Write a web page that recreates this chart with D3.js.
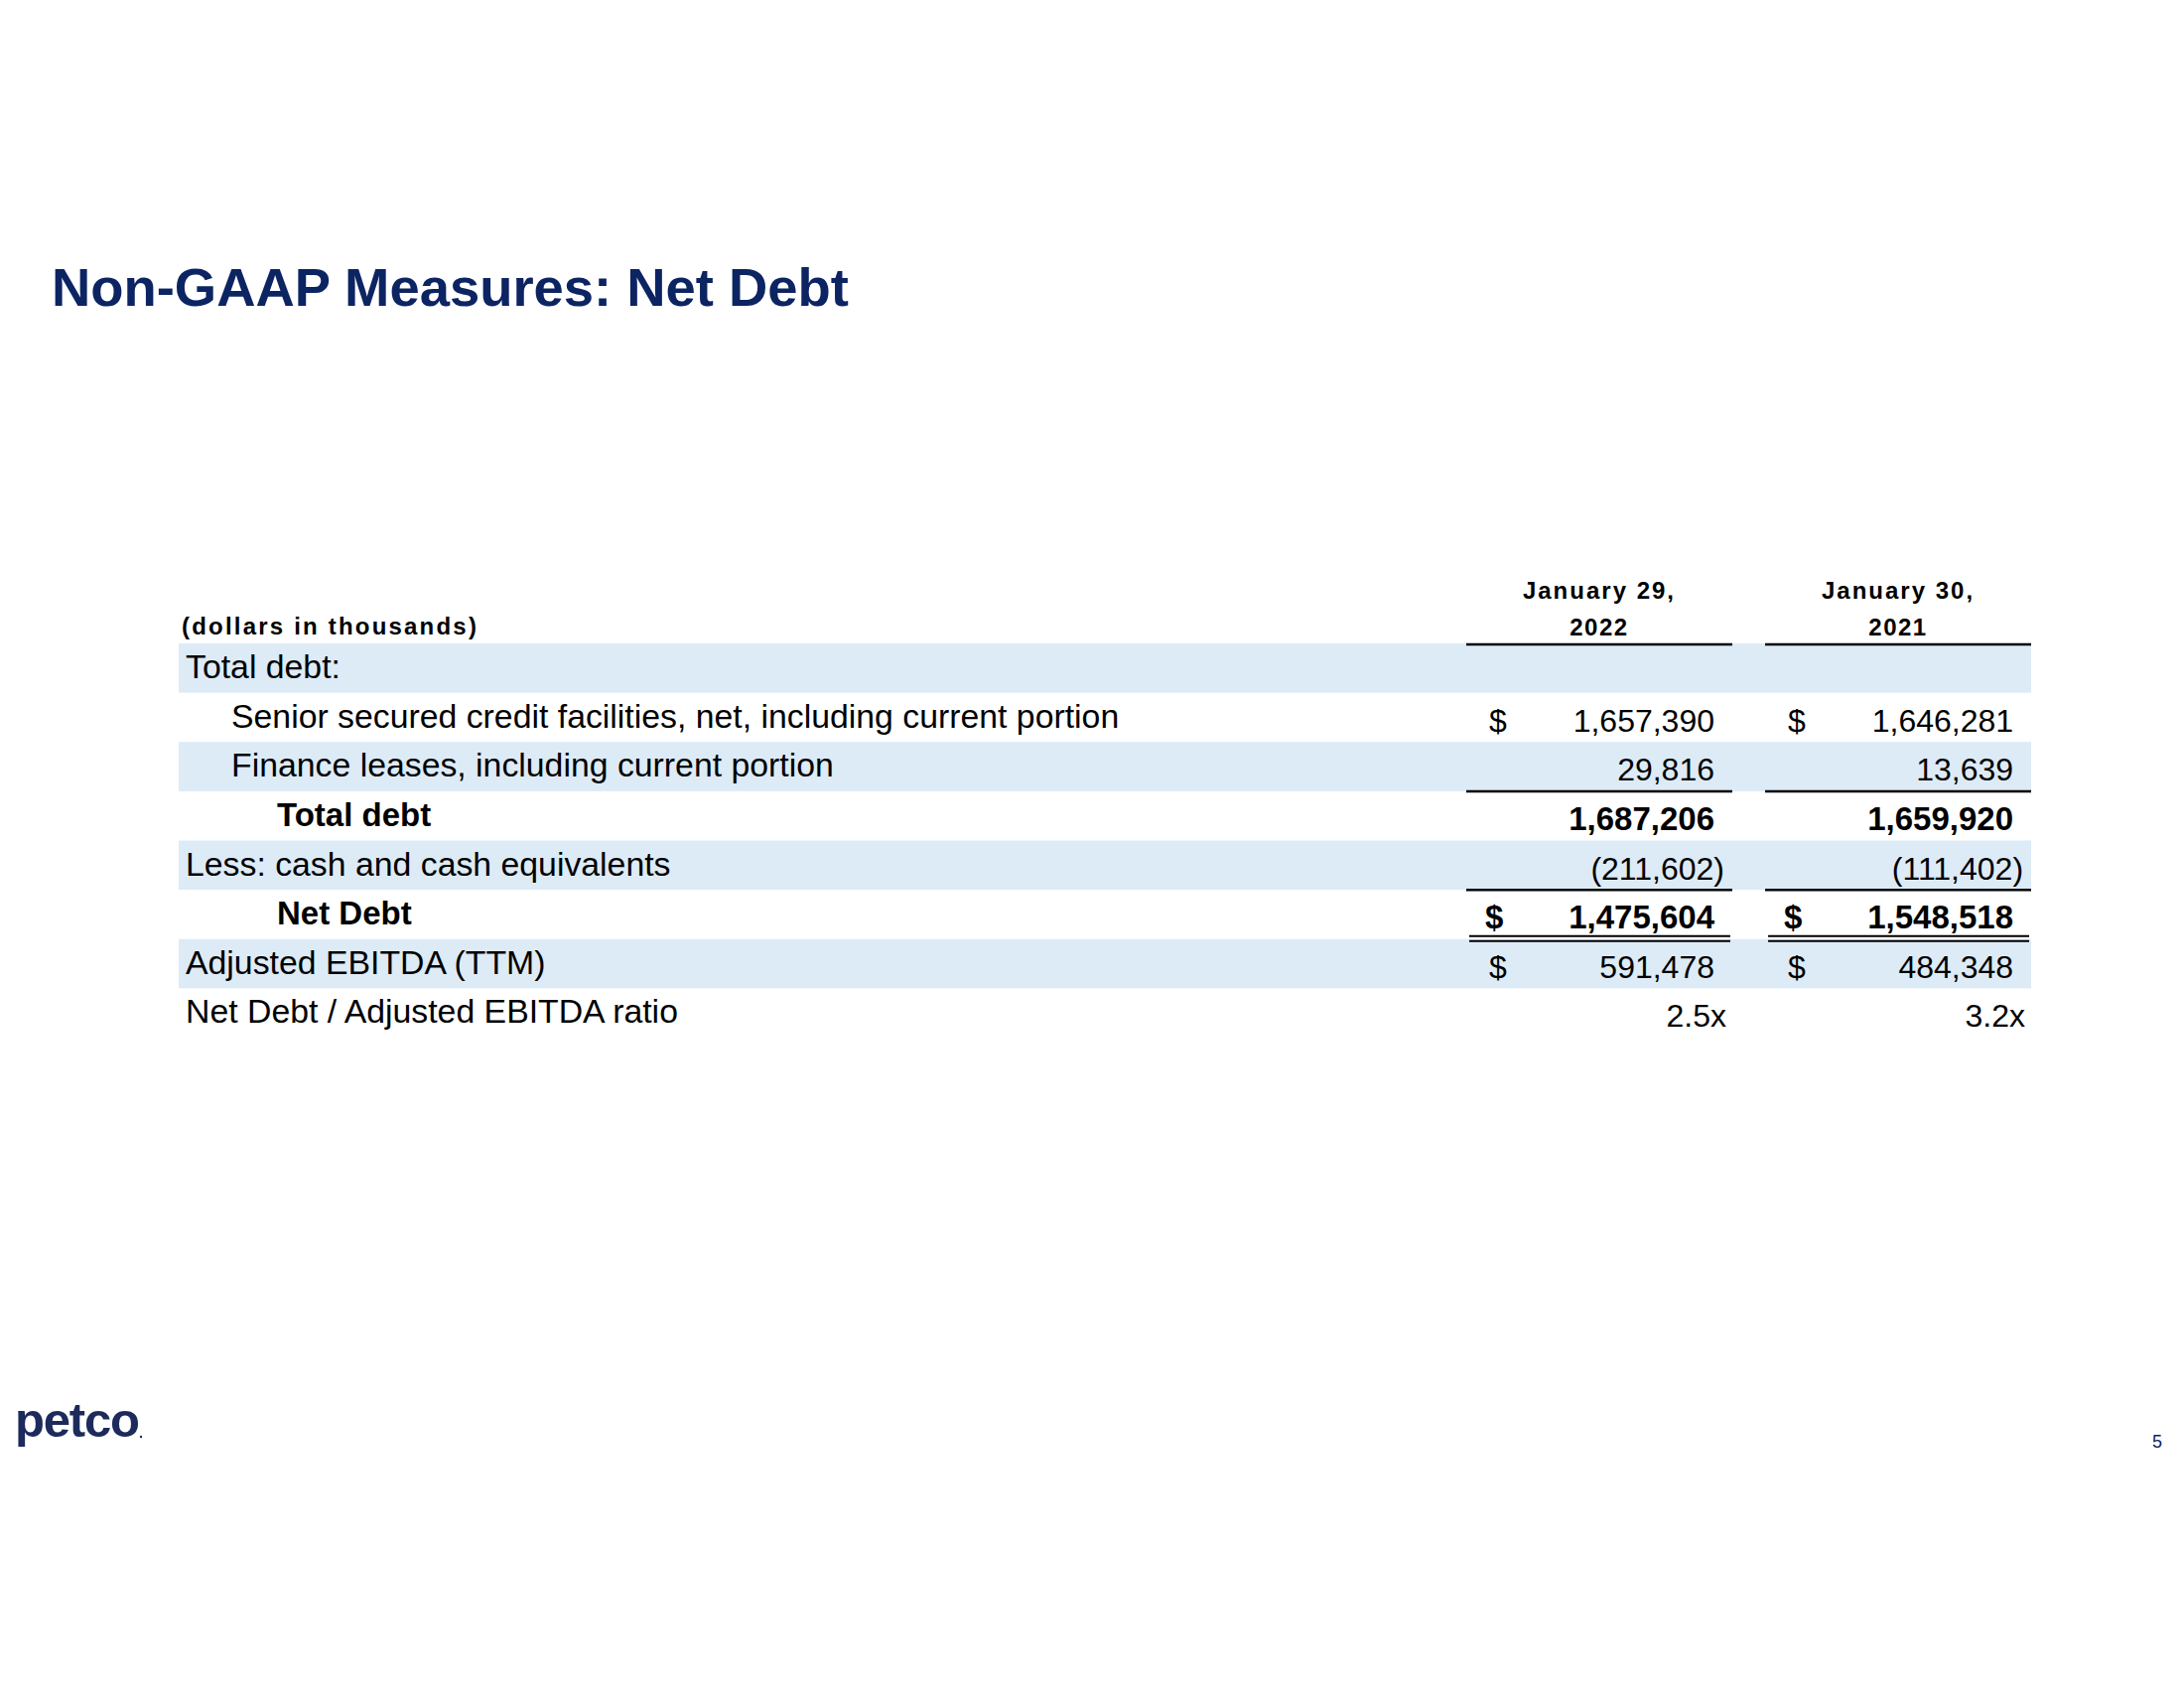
<!DOCTYPE html>
<html>
<head>
<meta charset="utf-8">
<script src="https://cdn.jsdelivr.net/npm/d3@7.9.0/dist/d3.min.js"></script>
<style>
  body { margin: 0; background: #fff; }
  svg text { font-family: "Liberation Sans", Arial, sans-serif; }
</style>
</head>
<body>
<div id="slide"></div>
<script>
// --- table content ---
const periods = ['2022', '2021'];
const periodDates = ['January 29,', 'January 30,'];
const rowLabels = [
  'Total debt:',
  'Senior secured credit facilities, net, including current portion',
  'Finance leases, including current portion',
  'Total debt',
  'Less: cash and cash equivalents',
  'Net Debt',
  'Adjusted EBITDA (TTM)',
  'Net Debt / Adjusted EBITDA ratio',
];
const values2022 = [null, 1657390, 29816, 1687206, -211602, 1475604, 591478, 2.5];
const values2021 = [null, 1646281, 13639, 1659920, -111402, 1548518, 484348, 3.2];

// row formatting (kept apart from the numbers)
const rowIndent = [0, 1, 1, 2, 0, 2, 0, 0];
const rowBold = [false, false, false, true, false, true, false, false];
const rowDollar = [false, true, false, false, false, true, true, false];
const rowShaded = [true, false, true, false, true, false, true, false];
const rowRatio = [false, false, false, false, false, false, false, true];
const singleRuleAbove = [3, 5];   // rows that get a single rule on top
const doubleRuleAbove = [6];      // rows that get a double rule on top

const W = 2200, H = 1700;
const navy = '#0d2463';

const svg = d3.select('#slide').append('svg')
  .attr('width', W)
  .attr('height', H)
  .attr('viewBox', `0 0 ${W} ${H}`);

svg.append('rect').attr('width', W).attr('height', H).attr('fill', '#fff');

// Title
svg.append('text')
  .attr('x', 52)
  .attr('y', 308)
  .attr('fill', navy)
  .style('font-size', '54.4px')
  .style('font-weight', 'bold')
  .text('Non-GAAP Measures: Net Debt');

// Scales
const yScale = d3.scaleBand()
  .domain(d3.range(rowLabels.length))
  .range([648, 1045]);

const xScale = d3.scaleBand()
  .domain(periods)
  .range([1477, 2046])
  .paddingInner(0.11);

const bw = xScale.bandwidth();
const fmt = d3.format(',');
const fmtRatio = d3.format('.1f');

// Shaded bands
svg.append('g')
  .selectAll('rect')
  .data(d3.range(rowLabels.length).filter(i => rowShaded[i]))
  .join('rect')
  .attr('x', 180)
  .attr('y', i => yScale(i))
  .attr('width', 2046 - 180)
  .attr('height', yScale.bandwidth())
  .attr('fill', '#ddebf7');

// Header
svg.append('text')
  .attr('x', 183)
  .attr('y', 639)
  .style('font-size', '24px')
  .style('font-weight', 'bold')
  .style('letter-spacing', '2.2px')
  .text('(dollars in thousands)');

const header = svg.append('g').selectAll('g')
  .data(periods)
  .join('g');

header.append('text')
  .attr('x', d => xScale(d) + bw / 2)
  .attr('y', 603)
  .attr('text-anchor', 'middle')
  .style('font-size', '24px')
  .style('font-weight', 'bold')
  .style('letter-spacing', '2px')
  .text((d, i) => periodDates[i]);

header.append('text')
  .attr('x', d => xScale(d) + bw / 2)
  .attr('y', 640)
  .attr('text-anchor', 'middle')
  .style('font-size', '24px')
  .style('font-weight', 'bold')
  .style('letter-spacing', '1.5px')
  .text(d => d);

header.append('line')
  .attr('x1', d => xScale(d))
  .attr('x2', d => xScale(d) + bw)
  .attr('y1', yScale(0) + 1)
  .attr('y2', yScale(0) + 1)
  .attr('stroke', '#000')
  .attr('stroke-width', 2.5);

// Row labels
svg.append('g')
  .selectAll('text')
  .data(rowLabels)
  .join('text')
  .attr('x', (d, i) => 187 + rowIndent[i] * 46)
  .attr('y', (d, i) => yScale(i) + 35)
  .style('font-size', (d, i) => rowBold[i] ? '33px' : '33.8px')
  .style('font-weight', (d, i) => rowBold[i] ? 'bold' : 'normal')
  .text(d => d);

// Value columns
const columns = [values2022, values2021];
periods.forEach((p, c) => {
  const x0 = xScale(p);
  const cells = columns[c].map((v, i) => ({ v, i })).filter(d => d.v !== null);
  const g = svg.append('g');

  g.selectAll('text.val')
    .data(cells)
    .join('text')
    .attr('class', 'val')
    .attr('x', d => x0 + (rowRatio[d.i] ? 262 : d.v < 0 ? 260 : 250))
    .attr('y', d => yScale(d.i) + 39)
    .attr('text-anchor', 'end')
    .style('font-size', d => rowBold[d.i] ? '33px' : '32px')
    .style('font-weight', d => rowBold[d.i] ? 'bold' : 'normal')
    .text(d => rowRatio[d.i] ? fmtRatio(d.v) + 'x'
      : d.v < 0 ? `(${fmt(-d.v)})` : fmt(d.v));

  g.selectAll('text.dol')
    .data(cells.filter(d => rowDollar[d.i]))
    .join('text')
    .attr('class', 'dol')
    .attr('x', d => x0 + (rowBold[d.i] ? 19 : 23))
    .attr('y', d => yScale(d.i) + 39)
    .style('font-size', d => rowBold[d.i] ? '33px' : '32px')
    .style('font-weight', d => rowBold[d.i] ? 'bold' : 'normal')
    .text('$');

  // single rules
  g.selectAll('line.single')
    .data(singleRuleAbove)
    .join('line')
    .attr('class', 'single')
    .attr('x1', x0)
    .attr('x2', x0 + bw)
    .attr('y1', i => yScale(i))
    .attr('y2', i => yScale(i))
    .attr('stroke', '#000')
    .attr('stroke-width', 2.5);

  // double rules
  doubleRuleAbove.forEach(i => {
    [-3, 2].forEach(off => {
      g.append('line')
        .attr('x1', x0 + 3)
        .attr('x2', x0 + bw - 2)
        .attr('y1', yScale(i) + off)
        .attr('y2', yScale(i) + off)
        .attr('stroke', '#000')
        .attr('stroke-width', 2.2);
    });
  });
});

// Footer: logo and page number
svg.append('text')
  .attr('x', 15)
  .attr('y', 1447)
  .attr('fill', '#1c2a5c')
  .style('font-size', '49px')
  .style('font-weight', 'bold')
  .style('letter-spacing', '-1.2px')
  .text('petco');

svg.append('circle')
  .attr('cx', 142)
  .attr('cy', 1447)
  .attr('r', 1.2)
  .attr('fill', '#1c2a5c');

svg.append('text')
  .attr('x', 2168)
  .attr('y', 1458)
  .attr('fill', navy)
  .style('font-size', '18px')
  .text('5');
</script>
</body>
</html>
